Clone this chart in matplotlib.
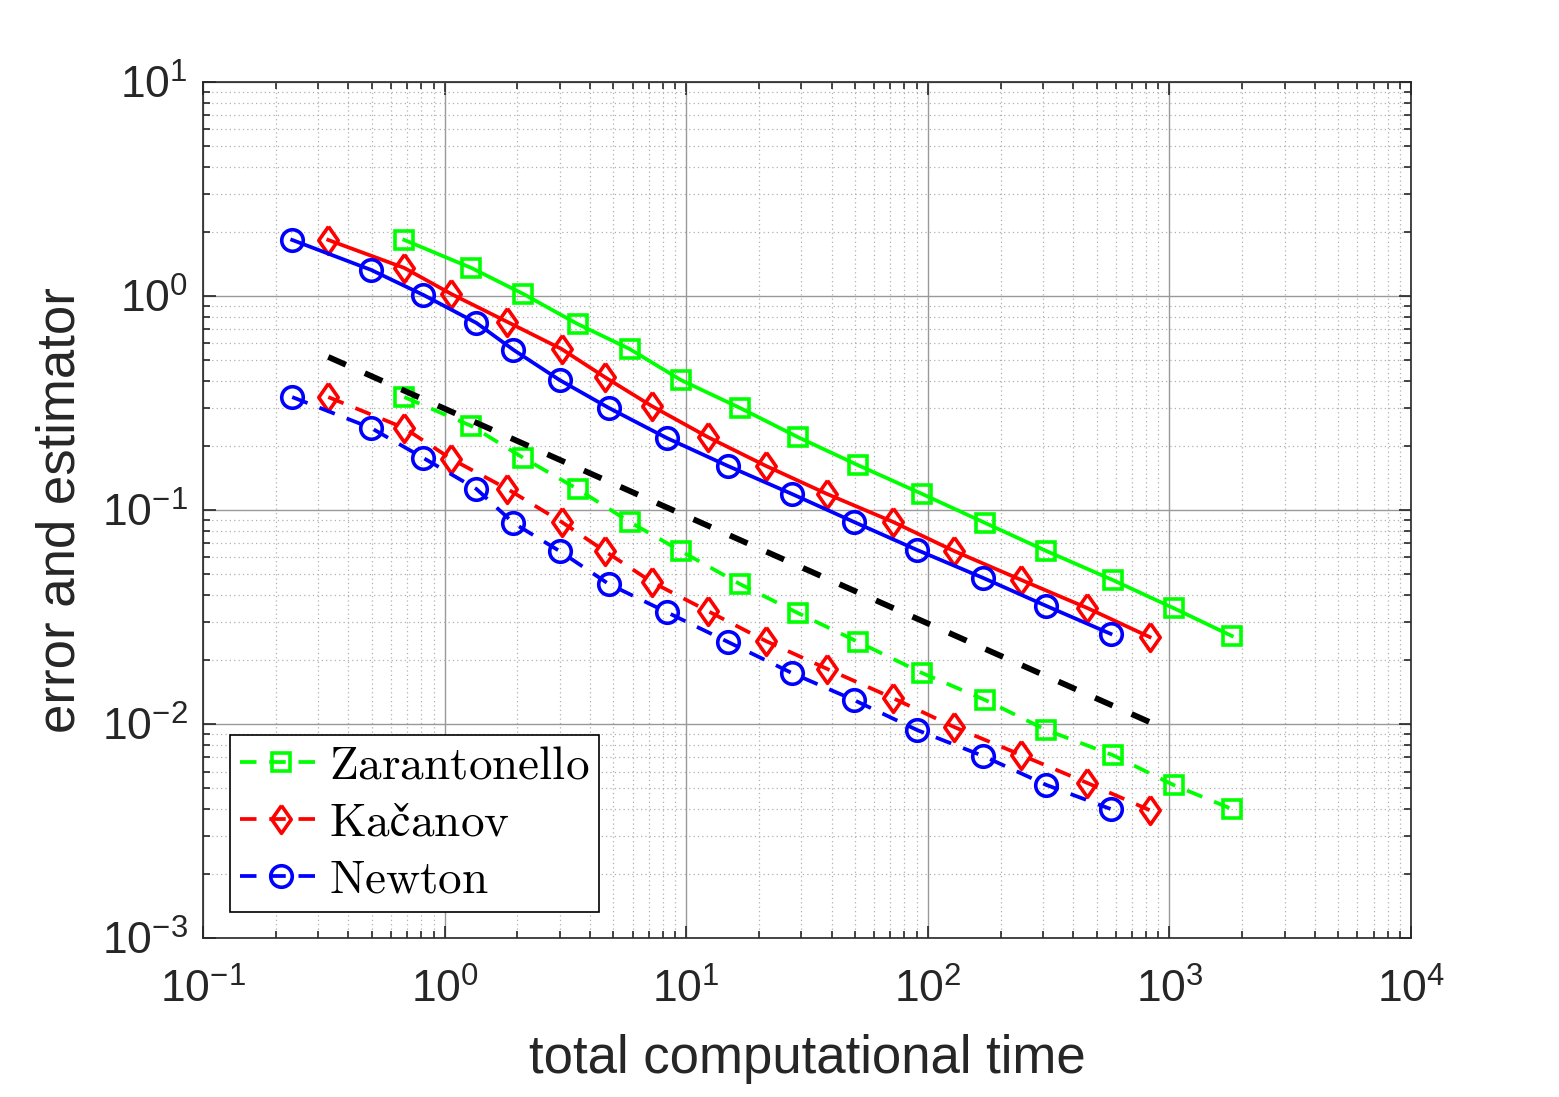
import numpy as np
import matplotlib
matplotlib.use("Agg")
import matplotlib.pyplot as plt
from matplotlib.ticker import LogLocator, FixedFormatter, NullFormatter

plt.rcParams['font.family'] = ['Liberation Sans', 'DejaVu Sans']
plt.rcParams['mathtext.fontset'] = 'cm'

# --- data (log-log) ---
t_newton = [0.234, 0.497, 0.817, 1.355, 1.928, 2.99, 4.78, 8.31, 14.87, 27.4,
            49.5, 90.4, 169.8, 309.7, 570.4]
err_newton = [1.827, 1.323, 1.011, 0.748, 0.560, 0.405, 0.300, 0.217, 0.1606,
              0.1188, 0.0879, 0.0650, 0.0481, 0.0356, 0.0264]
est_newton = [0.337, 0.2415, 0.175, 0.1253, 0.0869, 0.0643, 0.0451, 0.0333,
              0.0242, 0.0173, 0.01294, 0.00937, 0.00708, 0.00519, 0.00401]

t_kacanov = [0.330, 0.681, 1.067, 1.821, 3.05, 4.60, 7.20, 12.30, 21.4, 38.3,
             71.9, 128.6, 243.8, 458, 828]
err_kacanov = [1.827, 1.352, 1.021, 0.756, 0.565, 0.418, 0.306, 0.219, 0.1606,
               0.1188, 0.0879, 0.0643, 0.0471, 0.0348, 0.0255]
est_kacanov = [0.337, 0.2415, 0.173, 0.1253, 0.0879, 0.0643, 0.0461, 0.0337,
               0.0244, 0.0181, 0.0132, 0.00968, 0.00716, 0.00530, 0.00396]

t_zaran = [0.681, 1.291, 2.12, 3.55, 5.84, 9.50, 16.68, 29.0, 51.4, 94.8,
           173, 309.7, 582, 1040, 1811]
err_zaran = [1.827, 1.352, 1.021, 0.740, 0.565, 0.405, 0.300, 0.219, 0.162,
             0.1188, 0.0869, 0.0643, 0.0471, 0.0348, 0.0258]
est_zaran = [0.337, 0.247, 0.175, 0.1253, 0.0879, 0.0643, 0.0451, 0.0330,
             0.0242, 0.0173, 0.01294, 0.00937, 0.00716, 0.00519, 0.00401]

# reference slope line (t^-1/2)
t_ref = [0.33, 830]
y_ref = [0.519, 0.0102]

xticks = [1e-1, 1e0, 1e1, 1e2, 1e3, 1e4]
xticklabels = [r'$\mathregular{10^{-1}}$', r'$\mathregular{10^{0}}$', r'$\mathregular{10^{1}}$',
               r'$\mathregular{10^{2}}$', r'$\mathregular{10^{3}}$', r'$\mathregular{10^{4}}$']
yticks = [1e-3, 1e-2, 1e-1, 1e0, 1e1]
yticklabels = [r'$\mathregular{10^{-3}}$', r'$\mathregular{10^{-2}}$', r'$\mathregular{10^{-1}}$',
               r'$\mathregular{10^{0}}$', r'$\mathregular{10^{1}}$']

GREEN = (0, 1, 0)
RED = (1, 0, 0)
BLUE = (0, 0, 1)

diamond = [(0, 1), (0.7, 0), (0, -1), (-0.7, 0), (0, 1)]

fig = plt.figure(figsize=(15.59, 10.97), dpi=100)
ax = fig.add_axes([0.1302, 0.1449, 0.9051 - 0.1302, 0.9253 - 0.1449])

lw = 2.7
mew = 2.6
dash = (4.4, 3.4)

# solid: error
ax.plot(t_zaran, err_zaran, '-', color=GREEN, lw=lw, marker='s', ms=13.5,
        mfc='none', mew=mew)
ax.plot(t_kacanov, err_kacanov, '-', color=RED, lw=lw, marker=diamond, ms=20,
        mfc='none', mew=mew)
ax.plot(t_newton, err_newton, '-', color=BLUE, lw=lw, marker='o', ms=15.5,
        mfc='none', mew=mew)

# dashed: estimator
lz, = ax.plot(t_zaran, est_zaran, '--', color=GREEN, lw=lw, marker='s', ms=13.5,
              mfc='none', mew=mew, dashes=dash, label=r'$\mathrm{Zarantonello}$')
lk, = ax.plot(t_kacanov, est_kacanov, '--', color=RED, lw=lw, marker=diamond, ms=20,
              mfc='none', mew=mew, dashes=dash, label=r'$\mathrm{Kačanov}$')
ln, = ax.plot(t_newton, est_newton, '--', color=BLUE, lw=lw, marker='o', ms=15.5,
              mfc='none', mew=mew, dashes=dash, label=r'$\mathrm{Newton}$')

ax.plot(t_ref, y_ref, '--', color='k', lw=4.2, dashes=(3.3, 3.55))

ax.set_xscale('log')
ax.set_yscale('log')
ax.set_xlim(1e-1, 1e4)
ax.set_ylim(1e-3, 1e1)

ax.set_xticks(xticks)
ax.xaxis.set_major_formatter(FixedFormatter(xticklabels))
ax.set_yticks(yticks)
ax.yaxis.set_major_formatter(FixedFormatter(yticklabels))
ax.xaxis.set_minor_locator(LogLocator(base=10, subs=np.arange(2, 10), numticks=20))
ax.yaxis.set_minor_locator(LogLocator(base=10, subs=np.arange(2, 10), numticks=20))
ax.xaxis.set_minor_formatter(NullFormatter())
ax.yaxis.set_minor_formatter(NullFormatter())

ax.tick_params(which='both', direction='in', top=True, right=True, width=1.2,
               color='#262626')
ax.tick_params(which='major', length=9, labelsize=32, labelcolor='#262626')
ax.tick_params(axis='x', which='major', pad=22)
ax.tick_params(axis='y', which='major', pad=11)
ax.tick_params(which='minor', length=5)
for s in ax.spines.values():
    s.set_linewidth(1.2)
    s.set_color('#262626')

ax.grid(which='major', color='#999999', linestyle='-', linewidth=1.0)
ax.grid(which='minor', color='#b0b0b0', linestyle=(0, (1, 2.5)), linewidth=0.9)
ax.set_axisbelow(True)

ax.set_xlabel('total computational time', fontsize=38, color='#262626', labelpad=16)
ax.set_ylabel('error and estimator', fontsize=38, color='#262626', labelpad=12)

leg = ax.legend(handles=[lz, lk, ln], loc='lower left', bbox_to_anchor=(0.0225, 0.03),
                fontsize=34, frameon=True, fancybox=False, framealpha=1,
                edgecolor='k', handlelength=1.75, handletextpad=0.15,
                borderaxespad=0, borderpad=0.2, labelspacing=0.28, markerscale=1.0)
leg.get_frame().set_linewidth(1.2)

fig.savefig('out.png', dpi=100)
